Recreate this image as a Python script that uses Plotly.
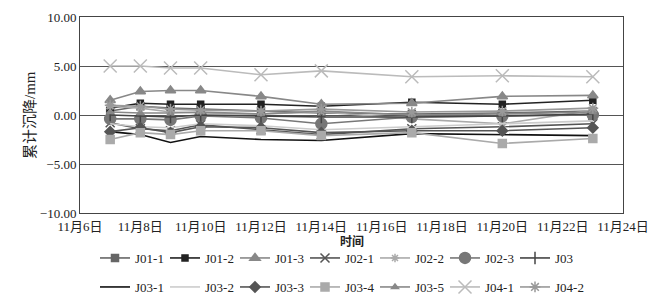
import plotly.graph_objects as go

dates = ["2020-11-07", "2020-11-08", "2020-11-09", "2020-11-10", "2020-11-12",
         "2020-11-14", "2020-11-17", "2020-11-20", "2020-11-23"]

J01_1 = [0.4, 0.9, 0.7, 0.6, 0.4, 0.2, 0.1, 0.2, 0.4]
J01_2 = [0.7, 1.2, 1.1, 1.1, 1.1, 0.9, 1.3, 1.1, 1.5]
J01_3 = [1.5, 2.4, 2.5, 2.5, 1.9, 1.1, 1.2, 1.9, 2.0]
J02_1 = [-0.8, -1.4, -1.6, -1.0, -1.5, -2.0, -1.4, -1.2, -0.9]
J02_2 = [0.9, 0.7, 0.3, 0.2, 0.1, 0.3, -0.4, -0.9, 0.5]
J02_3 = [-0.4, -0.4, -0.5, -0.1, -0.3, -0.9, -0.2, -0.1, 0.0]
J03 = [0.0, -0.1, -0.2, 0.0, -0.1, -0.2, -0.2, -0.1, 0.1]
J03_1 = [-1.7, -2.0, -2.8, -2.2, -2.5, -2.6, -1.9, -2.0, -2.1]
J03_2 = [-0.9, -1.2, -1.3, -0.9, -1.1, -1.5, -1.2, -0.9, -0.6]
J03_3 = [-1.7, -1.3, -1.8, -1.2, -1.3, -1.8, -1.6, -1.6, -1.3]
J03_4 = [-2.5, -1.8, -2.0, -1.6, -1.6, -2.1, -1.8, -2.9, -2.4]
J03_5 = [0.3, 0.2, 0.2, 0.3, 0.1, 0.4, 0.0, 0.1, 0.3]
J04_1 = [5.0, 5.0, 4.8, 4.8, 4.1, 4.5, 3.9, 4.0, 3.9]
J04_2 = [1.0, 0.9, 0.6, 0.5, 0.4, 0.6, 0.3, 0.4, 0.7]

tick_dates = ["2020-11-06", "2020-11-08", "2020-11-10", "2020-11-12", "2020-11-14",
              "2020-11-16", "2020-11-18", "2020-11-20", "2020-11-22", "2020-11-24"]
tick_labels = ["11月6日", "11月8日", "11月10日", "11月12日", "11月14日",
               "11月16日", "11月18日", "11月20日", "11月22日", "11月24日"]
y_ticks = [-10, -5, 0, 5, 10]
x_title = "时间"
y_title = "累计沉降/mm"

series = [
    ("J01-1", J01_1, "#666666", "square", 7, "legend"),
    ("J01-2", J01_2, "#222222", "square", 6, "legend"),
    ("J01-3", J01_3, "#888888", "triangle-up", 9, "legend"),
    ("J02-1", J02_1, "#555555", "x-thin-open", 9, "legend"),
    ("J02-2", J02_2, "#aaaaaa", "asterisk-open", 7, "legend"),
    ("J02-3", J02_3, "#777777", "circle", 11, "legend"),
    ("J03", J03, "#444444", "line-ns-open", 9, "legend"),
    ("J03-1", J03_1, "#111111", None, 0, "legend2"),
    ("J03-2", J03_2, "#cccccc", None, 0, "legend2"),
    ("J03-3", J03_3, "#555555", "diamond", 8, "legend2"),
    ("J03-4", J03_4, "#aaaaaa", "square", 8, "legend2"),
    ("J03-5", J03_5, "#888888", "triangle-up", 6, "legend2"),
    ("J04-1", J04_1, "#bbbbbb", "x-thin-open", 13, "legend2"),
    ("J04-2", J04_2, "#999999", "asterisk-open", 9, "legend2"),
]

font_fam = "Liberation Serif, Noto Sans CJK SC"

fig = go.Figure()
for name, vals, col, sym, size, lg in series:
    if sym is None:
        fig.add_trace(go.Scatter(x=dates, y=vals, name=name, mode="lines", legend=lg,
                                 line=dict(color=col, width=1.6)))
    else:
        fig.add_trace(go.Scatter(x=dates, y=vals, name=name, mode="lines+markers",
                                 legend=lg,
                                 line=dict(color=col, width=1.6),
                                 marker=dict(symbol=sym, size=size, color=col,
                                             line=dict(color=col, width=1.5))))

legend_common = dict(orientation="h", xref="container", yref="container",
                     x=95 / 669, xanchor="left", yanchor="middle",
                     entrywidth=25, entrywidthmode="pixels", itemwidth=30,
                     font=dict(size=13, family=font_fam, color="#222222"),
                     bgcolor="rgba(0,0,0,0)")

fig.update_layout(
    width=669, height=301,
    margin=dict(l=80, r=46, t=17, b=88, autoexpand=False),
    paper_bgcolor="white", plot_bgcolor="white",
    font=dict(family=font_fam, size=12, color="#222222"),
    showlegend=True,
    legend=dict(legend_common, y=1 - 258 / 301),
    legend2=dict(legend_common, y=1 - 287 / 301),
    xaxis=dict(type="date", range=["2020-11-06", "2020-11-24"],
               tickvals=tick_dates, ticktext=tick_labels,
               showgrid=False, showline=True, linecolor="#444444", linewidth=1,
               mirror=True, ticks="", tickfont=dict(size=13), ticklabelstandoff=1),
    yaxis=dict(range=[-10, 10], tickvals=y_ticks, tickformat=".2f",
               showgrid=True, gridcolor="#555555", gridwidth=1,
               showline=True, linecolor="#444444", linewidth=1, mirror=True,
               zeroline=False, ticks="", tickfont=dict(size=13)),
    annotations=[
        dict(text="<b>" + x_title + "</b>", xref="paper", x=0.5,
             yref="paper", y=-29 / 196, yanchor="middle",
             showarrow=False, font=dict(size=12, color="#222222")),
        dict(text=y_title, xref="paper", x=-50 / 543, xanchor="center",
             yref="paper", y=0.5, yanchor="middle", textangle=-90,
             showarrow=False, font=dict(size=15, color="#222222")),
    ],
)

fig.write_html("out.html")
